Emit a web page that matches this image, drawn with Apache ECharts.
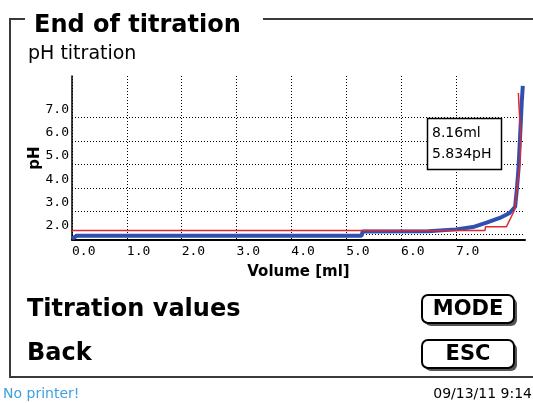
<!DOCTYPE html>
<html>
<head>
<meta charset="utf-8">
<script src="https://cdn.jsdelivr.net/npm/echarts@6/dist/echarts.min.js"></script>
<style>
html,body{margin:0;padding:0;background:#fff;}
#main{width:533px;height:403px;}
</style>
</head>
<body>
<div id="main"></div>
<script>
// ---- data ----
var xTicks = [0, 1, 2, 3, 4, 5, 6, 7];
var yTicks = [2, 3, 4, 5, 6, 7];
var blueVolume = [0, 0.09, 5.28, 5.30, 6.5, 7.0, 7.31, 7.56, 7.80, 7.98, 8.08, 8.11, 8.14, 8.17, 8.20, 8.22];
var bluePH     = [1.82, 1.95, 1.95, 2.13, 2.14, 2.22, 2.32, 2.51, 2.71, 2.92, 3.19, 3.90, 4.76, 6.17, 7.63, 8.36];
var redVolume  = [0, 7.53, 7.54, 7.92, 8.01, 8.07, 8.11, 8.17, 8.18, 8.15, 8.14];
var redPH      = [2.17, 2.17, 2.33, 2.33, 2.76, 3.05, 3.90, 5.06, 6.40, 7.50, 8.06];
var markerVolume = 8.16;
var markerPH = 5.834;

function pairs(xs, ys) { return xs.map(function (x, i) { return [x, ys[i]]; }); }

var chart = echarts.init(document.getElementById('main'), null, { renderer: 'canvas' });
var FONT = 'DejaVu Sans';
var MONO = 'DejaVu Sans Mono';
var frame = '#3a3a3a';

function button(x, y, w, h, label) {
  return [
    { type: 'rect', shape: { x: x + 3, y: y + 3, width: w, height: h, r: 6 }, style: { fill: '#555' }, silent: true },
    { type: 'rect', shape: { x: x, y: y, width: w, height: h, r: 6 }, style: { fill: '#fff', stroke: '#000', lineWidth: 2 }, silent: true },
    { type: 'text', x: x + w / 2, y: y + h / 2 + 1, style: { text: label, font: 'bold 21px "' + FONT + '"', fill: '#000', align: 'center', verticalAlign: 'middle' }, silent: true }
  ];
}

var graphics = [
  // frame
  { type: 'line', shape: { x1: 10, y1: 19, x2: 10, y2: 377 }, style: { stroke: frame, lineWidth: 2 } },
  { type: 'line', shape: { x1: 9, y1: 19, x2: 25, y2: 19 }, style: { stroke: frame, lineWidth: 2 } },
  { type: 'line', shape: { x1: 263, y1: 19, x2: 533, y2: 19 }, style: { stroke: frame, lineWidth: 2 } },
  { type: 'line', shape: { x1: 9, y1: 377, x2: 533, y2: 377 }, style: { stroke: frame, lineWidth: 2 } },
  // titles
  { type: 'text', x: 34, y: 26, style: { text: 'End of titration', font: 'bold 24px "' + FONT + '"', fill: '#000', verticalAlign: 'middle' } },
  { type: 'text', x: 28, y: 54, style: { text: 'pH titration', font: '19px "' + FONT + '"', fill: '#000', verticalAlign: 'middle' } },
  { type: 'text', x: 27, y: 310, style: { text: 'Titration values', font: 'bold 24px "' + FONT + '"', fill: '#000', verticalAlign: 'middle' } },
  { type: 'text', x: 27, y: 354, style: { text: 'Back', font: 'bold 24px "' + FONT + '"', fill: '#000', verticalAlign: 'middle' } },
  // footer
  { type: 'text', x: 3, y: 394, style: { text: 'No printer!', font: '14px "' + FONT + '"', fill: '#3f9fe0', verticalAlign: 'middle' } },
  { type: 'text', x: 532, y: 394, style: { text: '09/13/11 9:14', font: '14px "' + FONT + '"', fill: '#000', align: 'right', verticalAlign: 'middle' } },
  // annotation box
  { type: 'rect', shape: { x: 427.5, y: 118.5, width: 74, height: 51 }, style: { fill: '#fff', stroke: '#000', lineWidth: 1.5 }, z: 10 },
  { type: 'text', x: 432, y: 133, z: 11, style: { text: markerVolume.toFixed(2) + 'ml', font: '14px "' + FONT + '"', fill: '#000', verticalAlign: 'middle' } },
  { type: 'text', x: 432, y: 154.5, z: 11, style: { text: markerPH.toFixed(3) + 'pH', font: '14px "' + FONT + '"', fill: '#000', verticalAlign: 'middle' } }
].concat(button(422, 295, 92, 28, 'MODE')).concat(button(422, 340, 92, 28, 'ESC'));

var option = {
  animation: false,
  backgroundColor: '#fff',
  grid: { left: 72, right: 8, top: 76, bottom: 163, containLabel: false },
  xAxis: {
    type: 'value', min: 0, max: 8.26,
    name: 'Volume [ml]', nameLocation: 'middle', nameGap: 25, nameMoveOverlap: false,
    nameTextStyle: { fontFamily: FONT, fontWeight: 'bold', fontSize: 15, color: '#000' },
    axisLine: { show: true, onZero: false, lineStyle: { color: '#000', width: 2 } },
    axisTick: { show: false, customValues: xTicks },
    axisLabel: { customValues: xTicks, align: 'left', margin: 5, fontFamily: MONO, fontSize: 13, color: '#000',
      formatter: function (v) { return v.toFixed(1); } },
    splitLine: { show: true, lineStyle: { color: '#000', width: 1, type: [1, 2] } }
  },
  yAxis: {
    type: 'value', min: 1.765, max: 8.785,
    name: 'pH', nameLocation: 'middle', nameGap: 29, nameRotate: 90, nameMoveOverlap: false,
    nameTextStyle: { fontFamily: FONT, fontWeight: 'bold', fontSize: 15, color: '#000' },
    axisLine: { show: true, onZero: false, lineStyle: { color: '#000', width: 1.5 } },
    axisTick: { show: false, customValues: yTicks },
    axisLabel: { customValues: yTicks, margin: 3, fontFamily: MONO, fontSize: 13, color: '#000',
      verticalAlign: 'bottom', lineHeight: 13, padding: [0, 0, 2, 0],
      formatter: function (v) { return v.toFixed(1); } },
    splitLine: { show: true, lineStyle: { color: '#000', width: 1, type: [1, 2] } }
  },
  series: [
    { type: 'line', data: pairs(blueVolume, bluePH), showSymbol: false, symbol: 'none',
      lineStyle: { color: '#3050b0', width: 4 }, z: 3 },
    { type: 'line', data: pairs(redVolume, redPH), showSymbol: false, symbol: 'none',
      lineStyle: { color: '#e02830', width: 1.5 }, z: 4 }
  ],
  graphic: graphics
};
chart.setOption(option);
</script>
</body>
</html>
